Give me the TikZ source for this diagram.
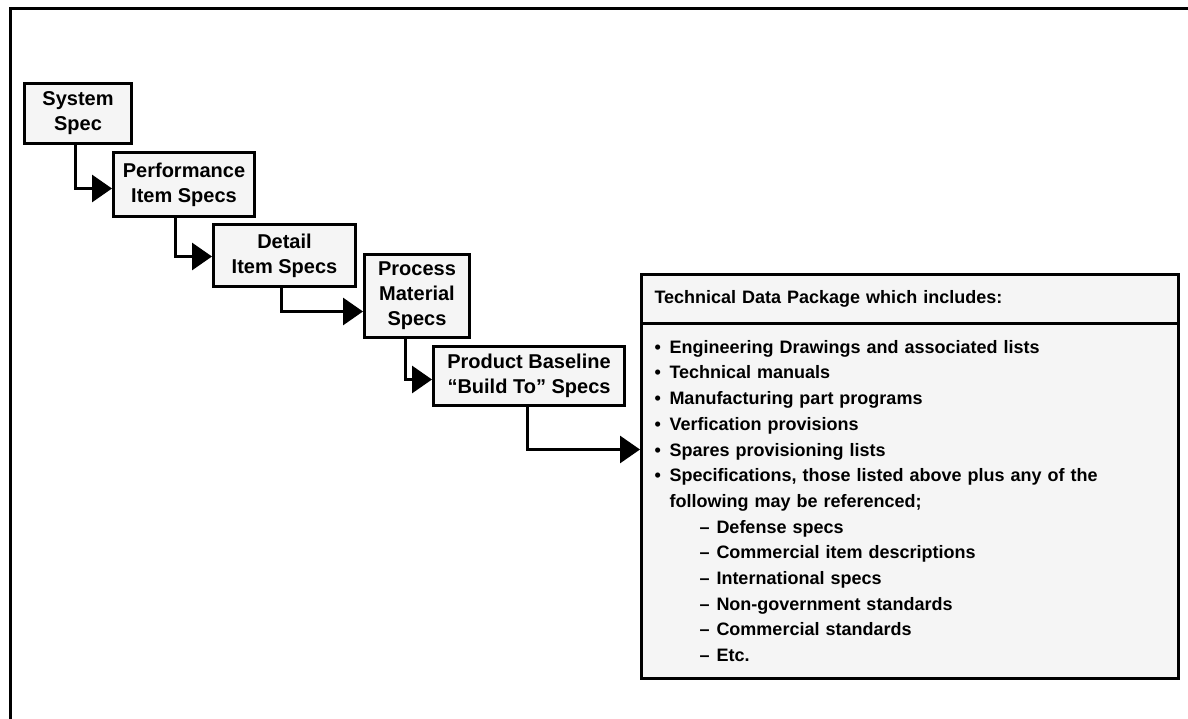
\documentclass[tikz,border=0pt]{standalone}
\usepackage{fontspec}
\setmainfont{Liberation Sans}
\usetikzlibrary{arrows.meta, positioning}

\newcommand{\tdpbullet}{\makebox[15pt][l]{•}}
\newcommand{\tdpdash}{\hspace*{45pt}\makebox[17pt][l]{–}}

\begin{document}
\begin{tikzpicture}[
    x=1pt, y=-1pt,
    every node/.style={font=\bfseries\fontsize{20}{25}\selectfont},
    specbox/.style={rectangle, draw, line width=3pt, fill=black!4, align=center, anchor=north west, inner sep=0pt},
    tdpbox/.style={rectangle, draw, line width=3pt, fill=black!4, align=left, anchor=north west, inner xsep=13pt, inner ysep=0pt, minimum width=537pt, text width=511pt, font=\bfseries\fontsize{18}{25.7}\selectfont},
    arrow/.style={-{Triangle[length=20pt, width=27pt]}, line width=3pt},
]
\useasboundingbox (0,0) rectangle (1188,719);

% frame
\draw[line width=3pt] (10,719) |- (1188,9);

\node[specbox, minimum width=107pt, minimum height=60pt] (sys) at (23,82) {System\\Spec};
\node[specbox, minimum width=141pt, minimum height=64pt] (perf) at (112,151) {Performance\\Item Specs};
\node[specbox, minimum width=142pt, minimum height=62pt] (detail) at (212,223) {Detail\\Item Specs};
\node[specbox, minimum width=105pt, minimum height=83pt] (proc) at (363,253) {Process\\Material\\Specs};
\node[specbox, minimum width=191pt, minimum height=59pt] (prod) at (432,345) {Product Baseline\\“Build To” Specs};

\node[tdpbox, minimum height=49pt] (tdphead) at (640,273) {Technical Data Package which includes:};
\node[tdpbox, minimum height=355pt] (tdpbody) at (640,322) {%
\tdpbullet Engineering Drawings and associated lists\\
\tdpbullet Technical manuals\\
\tdpbullet Manufacturing part programs\\
\tdpbullet Verfication provisions\\
\tdpbullet Spares provisioning lists\\
\tdpbullet Specifications, those listed above plus any of the\\
\hspace*{15pt}following may be referenced;\\
\tdpdash Defense specs\\
\tdpdash Commercial item descriptions\\
\tdpdash International specs\\
\tdpdash Non-government standards\\
\tdpdash Commercial standards\\
\tdpdash Etc.};

\draw[arrow] ([xshift=-2.5pt]sys.south) |- ([yshift=-4pt]perf.west);
\draw[arrow] ([xshift=-8.5pt]perf.south) |- ([yshift=-1pt]detail.west);
\draw[arrow] ([xshift=-3pt]detail.south) |- ([yshift=-15.5pt]proc.west);
\draw[arrow] ([xshift=-11.5pt]proc.south) |- ([yshift=-3.5pt]prod.west);
\draw[arrow] ([xshift=-1.5pt]prod.south) |- ([yshift=51.5pt]tdpbody.west);
\end{tikzpicture}
\end{document}
